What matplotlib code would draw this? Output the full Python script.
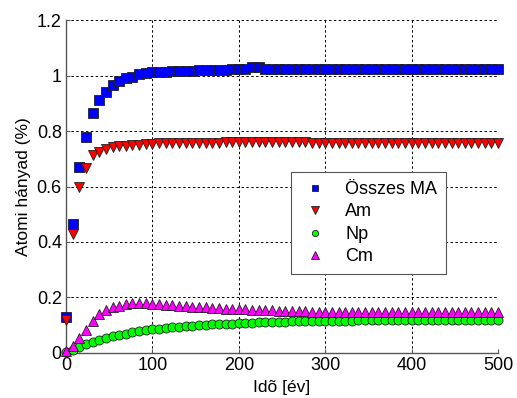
import matplotlib.pyplot as plt
import numpy as np

plt.rcParams['font.family'] = ['Liberation Sans', 'DejaVu Sans']

# time axis: 66 evenly spaced samples from 0 to 500 years
years = np.linspace(0, 500, 66)

total_ma = [0.13, 0.465, 0.67, 0.78, 0.865, 0.912, 0.94, 0.966, 0.981, 0.99,
            0.996, 1.004, 1.008, 1.011, 1.014, 1.014, 1.016, 1.016, 1.016, 1.016,
            1.019, 1.019, 1.019, 1.019, 1.019, 1.023, 1.023, 1.023, 1.031, 1.031,
            1.024, 1.024, 1.024, 1.024, 1.024, 1.024, 1.024, 1.024, 1.024, 1.025,
            1.025, 1.025, 1.025, 1.025, 1.025, 1.025, 1.025, 1.025, 1.025, 1.025,
            1.025, 1.025, 1.025, 1.025, 1.025, 1.025, 1.025, 1.025, 1.025, 1.025,
            1.025, 1.025, 1.025, 1.025, 1.025, 1.025]

am = [0.12, 0.43, 0.597, 0.666, 0.713, 0.725, 0.734, 0.743, 0.746, 0.746,
      0.748, 0.75, 0.753, 0.753, 0.755, 0.755, 0.755, 0.755, 0.756, 0.756,
      0.757, 0.757, 0.757, 0.757, 0.761, 0.761, 0.761, 0.761, 0.761, 0.761,
      0.761, 0.761, 0.761, 0.761, 0.761, 0.761, 0.761, 0.758, 0.758, 0.758,
      0.758, 0.758, 0.758, 0.758, 0.758, 0.758, 0.758, 0.758, 0.758, 0.758,
      0.758, 0.758, 0.758, 0.758, 0.758, 0.758, 0.758, 0.758, 0.758, 0.758,
      0.758, 0.758, 0.758, 0.758, 0.758, 0.758]

np_vals = [0.002, 0.012, 0.022, 0.032, 0.041, 0.048, 0.054, 0.06, 0.065, 0.069,
           0.074, 0.079, 0.083, 0.086, 0.088, 0.09, 0.092, 0.094, 0.096, 0.098,
           0.1, 0.101, 0.103, 0.104, 0.105, 0.106, 0.107, 0.108, 0.109, 0.11,
           0.111, 0.112, 0.112, 0.113, 0.114, 0.114, 0.115, 0.115, 0.116, 0.116,
           0.117, 0.117, 0.117, 0.117, 0.118, 0.118, 0.118, 0.118, 0.118, 0.118,
           0.118, 0.118, 0.118, 0.118, 0.118, 0.118, 0.118, 0.118, 0.118, 0.118,
           0.118, 0.118, 0.118, 0.118, 0.118, 0.118]

cm = [0.007, 0.025, 0.054, 0.083, 0.116, 0.14, 0.155, 0.165, 0.17, 0.177,
      0.18, 0.181, 0.18, 0.178, 0.176, 0.174, 0.172, 0.17, 0.168, 0.167,
      0.165, 0.164, 0.162, 0.161, 0.16, 0.158, 0.157, 0.157, 0.156, 0.155,
      0.155, 0.154, 0.153, 0.152, 0.152, 0.151, 0.15, 0.149, 0.149, 0.149,
      0.149, 0.149, 0.149, 0.149, 0.148, 0.148, 0.148, 0.148, 0.148, 0.148,
      0.148, 0.148, 0.148, 0.148, 0.148, 0.148, 0.148, 0.148, 0.148, 0.148,
      0.148, 0.148, 0.148, 0.148, 0.148, 0.148]

labels = ['Összes MA', 'Am', 'Np', 'Cm']

fig = plt.figure(figsize=(5.17, 3.98), dpi=100)
ax = fig.add_axes([0.1277, 0.1131, 0.8356, 0.8366])

ax.plot(years, total_ma, 's', ms=6.5, mfc='#0000ff', mec='#202020', mew=0.6,
        label=labels[0], clip_on=False, zorder=3)
ax.plot(years, am, 'v', ms=7.5, mfc='#ff0000', mec='#202020', mew=0.6,
        label=labels[1], clip_on=False, zorder=3)
ax.plot(years, np_vals, 'o', ms=6.5, mfc='#00ff00', mec='#202020', mew=0.6,
        label=labels[2], clip_on=False, zorder=3)
ax.plot(years, cm, '^', ms=7.5, mfc='#ff00ff', mec='#202020', mew=0.6,
        label=labels[3], clip_on=False, zorder=3)

ax.set_xlim(0, 500)
ax.set_ylim(0, 1.2)
ax.set_xticks([0, 100, 200, 300, 400, 500])
ax.set_yticks([0, 0.2, 0.4, 0.6, 0.8, 1.0, 1.2])
ax.set_yticklabels(['0', '0.2', '0.4', '0.6', '0.8', '1', '1.2'])
ax.grid(True, color='black', linestyle=(0, (2.5, 2.5)), linewidth=0.7)
ax.set_axisbelow(True)

for s in ['top', 'right']:
    ax.spines[s].set_visible(False)
for s in ['left', 'bottom']:
    ax.spines[s].set_color('#555555')
    ax.spines[s].set_linewidth(1.0)
ax.tick_params(direction='in', length=3, labelsize=13, color='#555555', pad=3)

ax.set_xlabel('Idõ [év]', fontsize=12.5, labelpad=4)
ax.set_ylabel('Atomi hányad (%)', fontsize=12.5, labelpad=4)

leg = ax.legend(loc='upper left', bbox_to_anchor=(0.521, 0.5435), fontsize=13,
                fancybox=False, framealpha=1, edgecolor='#555555',
                markerscale=0.7, handlelength=1.6, handletextpad=0.9,
                borderpad=0.5, labelspacing=0.3, borderaxespad=0)
leg.get_frame().set_linewidth(0.8)

fig.savefig('out.png', dpi=100)
